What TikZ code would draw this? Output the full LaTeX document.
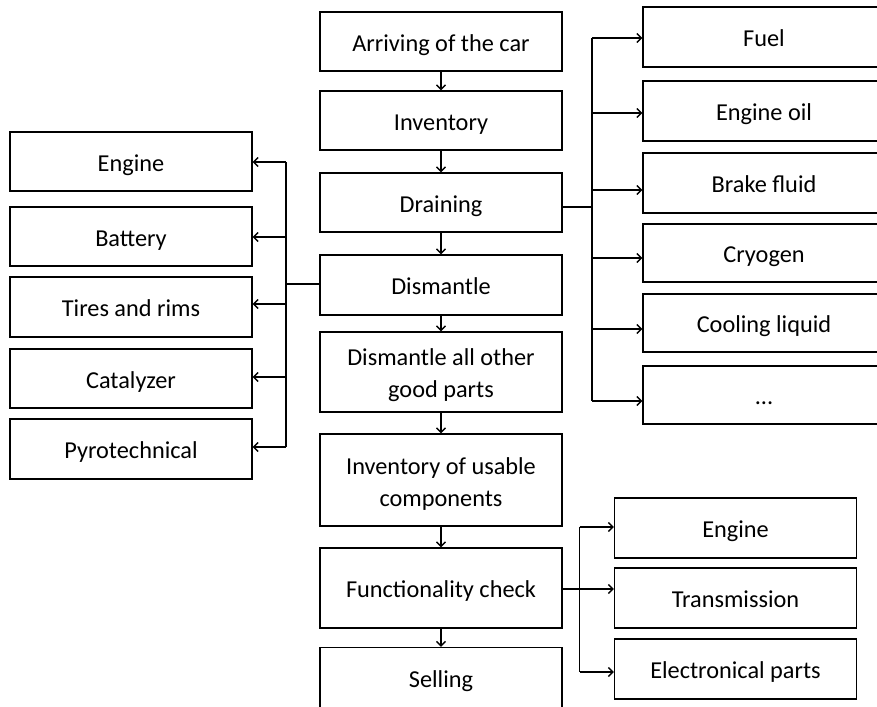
\documentclass[tikz,border=0pt]{standalone}
\usepackage{fontspec}
\setmainfont{Carlito}
\usetikzlibrary{arrows.meta}
\newcommand{\firstline}{\rule{0pt}{24pt}}
\begin{document}
\begin{tikzpicture}[x=1pt,y=-1pt,
  box/.style={draw=black, line width=1.4pt, inner sep=0pt, align=center,
    minimum width=242pt, text=black,
    font=\fontsize{24.3}{32}\selectfont},
  one/.style={box, text height=24pt, text depth=4.5pt},
  wire/.style={draw=black, line width=1.3pt},
  link/.style={wire, -{Straight Barb[length=4.5pt,width=9pt,line width=1.3pt]}}]
\useasboundingbox (0,0) rectangle (877,706);
\clip (0,0) rectangle (877,706);

% main process column
\node[one, minimum height=59pt] (arr) at (441,41.5) {Arriving of the car};
\node[one, minimum height=59pt] (inv) at (441,120.5) {Inventory};
\node[one, minimum height=59pt] (drn) at (441,202.5) {Draining};
\node[one, minimum height=60pt] (dis) at (441,285) {Dismantle};
\node[box, minimum height=80pt] (dao) at (441,372) {\firstline Dismantle all other\\good parts};
\node[box, minimum height=92pt] (iuc) at (441,480) {\firstline Inventory of usable\\components};
\node[one, minimum height=80pt] (fun) at (441,588) {Functionality check};
\node[one, minimum height=60pt] (sel) at (441,677.5) {Selling};

% parts removed while dismantling
\node[one, minimum height=59pt] (eng) at (131,161.5) {Engine};
\node[one, minimum height=59pt] (bat) at (131,236.5) {Battery};
\node[one, minimum height=60pt] (tir) at (131,307) {Tires and rims};
\node[one, minimum height=59pt] (cat) at (131,378.5) {Catalyzer};
\node[one, minimum height=60pt] (pyr) at (131,449) {Pyrotechnical};

% fluids drained
\node[one, minimum height=60pt] (fue) at (764,37) {Fuel};
\node[one, minimum height=60pt] (oil) at (764,111) {Engine oil};
\node[one, minimum height=60pt] (brk) at (764,183) {Brake fluid};
\node[one, minimum height=58pt] (cry) at (764,253) {Cryogen};
\node[one, minimum height=58pt] (col) at (764,323) {Cooling liquid};
\node[one, minimum height=58pt] (dts) at (764,395) {...};

% components checked
\node[one, minimum height=60pt] (ceng) at (735.5,528) {Engine};
\node[one, minimum height=60pt] (trn) at (735.5,598) {Transmission};
\node[one, minimum height=60pt] (ele) at (735.5,669) {Electronical parts};

% main flow
\foreach \a/\b in {arr/inv, inv/drn, drn/dis, dis/dao, dao/iuc, iuc/fun, fun/sel}
  \draw[link] (\a) -- (\b);

% bracket towards the drained fluids
\coordinate (rb) at (592,0);
\path ([yshift=-4.5pt]drn.east) coordinate (drnOut);
\path ([yshift=-1pt]fue.west) coordinate (fueIn);
\path ([yshift=-2pt]oil.west) coordinate (oilIn);
\path ([yshift=-7pt]brk.west) coordinate (brkIn);
\path ([yshift=-5pt]cry.west) coordinate (cryIn);
\path ([yshift=-6pt]col.west) coordinate (colIn);
\path ([yshift=-6pt]dts.west) coordinate (dtsIn);
\draw[wire] (rb |- fueIn) -- (rb |- dtsIn);
\draw[wire] (drnOut) -- (rb |- drnOut);
\foreach \t in {fueIn, oilIn, brkIn, cryIn, colIn, dtsIn}
  \draw[link] (rb |- \t) -- (\t);

% bracket towards the dismantled parts
\coordinate (lb) at (286,0);
\path ([yshift=-0.5pt]eng.east) coordinate (engIn);
\path ([yshift=-0.5pt]bat.east) coordinate (batIn);
\path ([yshift=3pt]tir.east) coordinate (tirIn);
\path ([yshift=1.5pt]cat.east) coordinate (catIn);
\path ([yshift=2pt]pyr.east) coordinate (pyrIn);
\path ([yshift=1pt]dis.west) coordinate (disOut);
\draw[wire] (lb |- engIn) -- (lb |- pyrIn);
\draw[wire] (disOut) -- (lb |- disOut);
\foreach \t in {engIn, batIn, tirIn, catIn, pyrIn}
  \draw[link] (lb |- \t) -- (\t);

% bracket towards the checked components
\coordinate (cb) at (579.5,0);
\path ([yshift=-1pt]fun.east) coordinate (funOut);
\path ([yshift=1pt]ceng.west) coordinate (cengIn);
\path (trn.west |- funOut) coordinate (trnIn);
\path ([yshift=-3pt]ele.west) coordinate (eleIn);
\draw[wire] (cb |- cengIn) -- (cb |- eleIn);
\draw[wire] (funOut) -- (cb |- funOut);
\foreach \t in {cengIn, trnIn, eleIn}
  \draw[link] (cb |- \t) -- (\t);
\end{tikzpicture}
\end{document}
